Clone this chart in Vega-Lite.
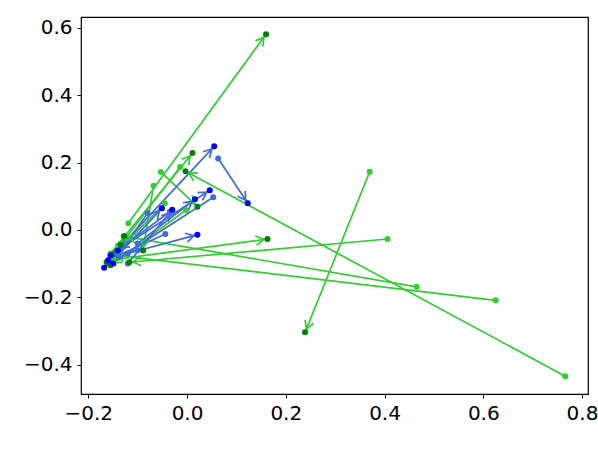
{
  "$schema": "https://vega.github.io/schema/vega-lite/v6.json",
  "width": 507,
  "height": 377,
  "autosize": "none",
  "padding": {"left": 81, "top": 17, "right": 10, "bottom": 55},
  "background": "white",
  "config": {
    "view": {"stroke": "black", "strokeWidth": 1.2},
    "axis": {
      "grid": false, "domain": false, "tickColor": "black", "tickSize": 4, "tickWidth": 1,
      "labelFont": "DejaVu Sans", "labelFontSize": 20, "labelColor": "black",
      "labelFlush": false, "labelOverlap": false, "format": ".1f", "title": null
    }
  },
  "data": {"values": [
    {"grp": "g", "x1": -0.119, "y1": 0.020, "x2": 0.160, "y2": 0.581},
    {"grp": "g", "x1": 0.370, "y1": 0.173, "x2": 0.239, "y2": -0.304},
    {"grp": "g", "x1": 0.766, "y1": -0.434, "x2": -0.003, "y2": 0.174},
    {"grp": "g", "x1": 0.406, "y1": -0.027, "x2": -0.117, "y2": -0.096},
    {"grp": "g", "x1": 0.465, "y1": -0.169, "x2": -0.127, "y2": -0.019},
    {"grp": "g", "x1": 0.625, "y1": -0.209, "x2": -0.152, "y2": -0.074},
    {"grp": "g", "x1": -0.148, "y1": -0.088, "x2": 0.163, "y2": -0.027},
    {"grp": "g", "x1": -0.053, "y1": 0.172, "x2": 0.021, "y2": 0.069},
    {"grp": "g", "x1": -0.155, "y1": -0.070, "x2": 0.011, "y2": 0.228},
    {"grp": "g", "x1": -0.014, "y1": 0.187, "x2": -0.135, "y2": -0.045},
    {"grp": "g", "x1": -0.068, "y1": 0.131, "x2": -0.089, "y2": -0.061},
    {"grp": "g", "x1": -0.045, "y1": 0.079, "x2": -0.163, "y2": -0.096},
    {"grp": "g", "x1": -0.002, "y1": 0.059, "x2": -0.155, "y2": -0.105},
    {"grp": "g", "x1": -0.150, "y1": -0.095, "x2": -0.128, "y2": -0.019},
    {"grp": "b", "x1": -0.145, "y1": -0.065, "x2": 0.055, "y2": 0.248},
    {"grp": "b", "x1": 0.063, "y1": 0.212, "x2": 0.123, "y2": 0.079},
    {"grp": "b", "x1": -0.130, "y1": -0.050, "x2": 0.046, "y2": 0.118},
    {"grp": "b", "x1": 0.053, "y1": 0.097, "x2": -0.168, "y2": -0.112},
    {"grp": "b", "x1": -0.120, "y1": -0.070, "x2": 0.021, "y2": -0.014},
    {"grp": "b", "x1": -0.100, "y1": -0.040, "x2": 0.016, "y2": 0.091},
    {"grp": "b", "x1": -0.140, "y1": -0.075, "x2": -0.051, "y2": 0.064},
    {"grp": "b", "x1": -0.044, "y1": -0.012, "x2": -0.160, "y2": -0.090},
    {"grp": "b", "x1": -0.035, "y1": 0.054, "x2": -0.140, "y2": -0.060},
    {"grp": "b", "x1": -0.100, "y1": -0.060, "x2": -0.155, "y2": -0.076},
    {"grp": "b", "x1": -0.080, "y1": 0.050, "x2": -0.150, "y2": -0.100},
    {"grp": "b", "x1": -0.120, "y1": -0.100, "x2": -0.030, "y2": 0.060}
  ]},
  "transform": [
    {"calculate": "atan2((datum.x2 - datum.x1) * 493.7, (datum.y2 - datum.y1) * 336.9) * 180 / PI", "as": "ang"}
  ],
  "encoding": {
    "x": {"field": "x1", "type": "quantitative", "scale": {"domain": [-0.2148, 0.8121], "nice": false, "zero": false}, "axis": {"values": [-0.2, 0, 0.2, 0.4, 0.6, 0.8], "labelPadding": 5}},
    "y": {"field": "y1", "type": "quantitative", "scale": {"domain": [-0.487, 0.632], "nice": false, "zero": false}, "axis": {"values": [-0.4, -0.2, 0, 0.2, 0.4, 0.6], "labelPadding": 5}}
  },
  "layer": [
    {
      "mark": {"type": "rule", "strokeWidth": 1.7},
      "encoding": {
        "x2": {"field": "x2"},
        "y2": {"field": "y2"},
        "color": {"field": "grp", "type": "nominal", "scale": {"domain": ["g", "b"], "range": ["#32cd32", "#4169e1"]}, "legend": null}
      }
    },
    {
      "mark": {"type": "point", "shape": "M -0.75 1.9 L 0 0.6 L 0.75 1.9", "filled": false, "size": 150, "strokeWidth": 1.7, "opacity": 1},
      "encoding": {
        "x": {"field": "x2", "type": "quantitative"},
        "y": {"field": "y2", "type": "quantitative"},
        "angle": {"field": "ang", "type": "quantitative", "scale": null},
        "color": {"field": "grp", "type": "nominal", "scale": {"domain": ["g", "b"], "range": ["#32cd32", "#4169e1"]}, "legend": null}
      }
    },
    {
      "mark": {"type": "circle", "size": 36, "opacity": 1},
      "encoding": {
        "color": {"field": "grp", "type": "nominal", "scale": {"domain": ["g", "b"], "range": ["#32cd32", "#4169e1"]}, "legend": null}
      }
    },
    {
      "mark": {"type": "circle", "size": 36, "opacity": 1},
      "encoding": {
        "x": {"field": "x2", "type": "quantitative"},
        "y": {"field": "y2", "type": "quantitative"},
        "fill": {"field": "grp", "type": "nominal", "scale": {"domain": ["g", "b"], "range": ["#008000", "#0000ff"]}, "legend": null}
      }
    }
  ]
}
